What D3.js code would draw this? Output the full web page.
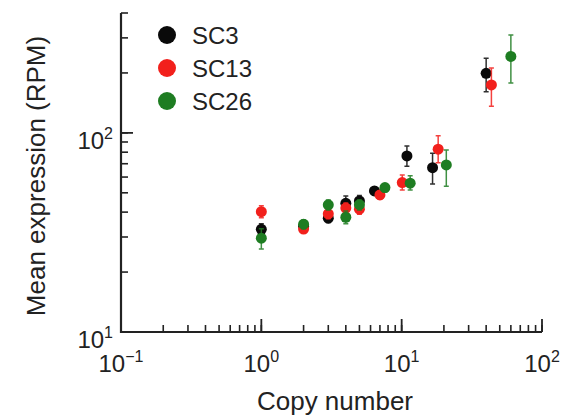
<!DOCTYPE html>
<meta charset="utf-8">
<style>
  body { margin: 0; background: #fff; }
  svg text { font-family: "Liberation Sans", Arial, sans-serif; fill: #222; }
</style>
<svg width="582" height="418"></svg>
<script src="https://d3js.org/d3.v7.min.js"></script>
<script>
// series: copy number, mean expression, error low / high (RPM)
var seriesNames = ["SC3", "SC13", "SC26"];
var seriesColors = ["#0a0a0a", "#f2201c", "#1e7d22"];

var sc3Copy = [1.0, 2.0, 3.0, 4.0, 5.0, 6.4, 10.9, 16.6, 40.0];
var sc3Mean = [32.8, 34.0, 37.3, 44.3, 45.5, 51.1, 76.6, 66.9, 199];
var sc3Lo   = [30.8, 32.5, 35.5, 40.5, 43.0, 49.0, 68.0, 55.4, 161];
var sc3Hi   = [35.0, 35.5, 39.5, 48.2, 48.5, 53.5, 86.0, 79.0, 237];

var sc13Copy = [1.0, 2.0, 3.0, 4.0, 5.0, 7.0, 10.1, 18.2, 43.6];
var sc13Mean = [40.2, 32.9, 39.2, 41.9, 41.4, 48.8, 56.3, 82.8, 174];
var sc13Lo   = [37.5, 31.5, 37.0, 39.5, 39.0, 46.5, 51.7, 70.7, 136];
var sc13Hi   = [43.0, 34.5, 41.5, 44.5, 44.0, 51.0, 61.5, 96.6, 212];

var sc26Copy = [1.0, 2.0, 3.0, 4.0, 5.0, 7.6, 11.5, 20.8, 60.0];
var sc26Mean = [29.6, 34.8, 43.5, 37.7, 43.6, 53.1, 55.9, 69.0, 242];
var sc26Lo   = [26.1, 33.0, 41.0, 35.0, 41.0, 50.5, 51.7, 54.0, 178];
var sc26Hi   = [33.0, 36.5, 46.0, 40.5, 46.0, 55.5, 61.0, 82.0, 310];

var xMajor = [0.1, 1, 10, 100];
var xMajorExp = ["\u22121", "0", "1", "2"];
var yMajor = [10, 100];
var yMajorExp = ["1", "2"];

var svg = d3.select("svg");

var x = d3.scaleLog().domain([0.1, 100]).range([121, 542]);
var y = d3.scaleLog().domain([10, 400]).range([332, 13]);

var axisColor = "#222";

// minor ticks
svg.append("g").selectAll("line").data(x.ticks())
  .enter().append("line")
  .attr("x1", function(d) { return x(d); }).attr("x2", function(d) { return x(d); })
  .attr("y1", 332).attr("y2", 325)
  .attr("stroke", axisColor).attr("stroke-width", 1.6);

svg.append("g").selectAll("line").data(y.ticks())
  .enter().append("line")
  .attr("y1", function(d) { return y(d); }).attr("y2", function(d) { return y(d); })
  .attr("x1", 121).attr("x2", 128)
  .attr("stroke", axisColor).attr("stroke-width", 1.6);

// major ticks
svg.append("g").selectAll("line").data(xMajor)
  .enter().append("line")
  .attr("x1", function(d) { return x(d); }).attr("x2", function(d) { return x(d); })
  .attr("y1", 332).attr("y2", 319)
  .attr("stroke", axisColor).attr("stroke-width", 1.8);

svg.append("g").selectAll("line").data(yMajor)
  .enter().append("line")
  .attr("y1", function(d) { return y(d); }).attr("y2", function(d) { return y(d); })
  .attr("x1", 121).attr("x2", 133)
  .attr("stroke", axisColor).attr("stroke-width", 1.8);

// axis lines
svg.append("path")
  .attr("d", "M" + x(0.1) + "," + y(400) + "V" + y(10) + "H" + x(100))
  .attr("fill", "none").attr("stroke", axisColor).attr("stroke-width", 2.2);

// tick labels
var xl = svg.append("g").selectAll("text").data(xMajor)
  .enter().append("text")
  .attr("x", function(d) { return x(d); })
  .attr("y", 372)
  .attr("text-anchor", "middle")
  .style("font-size", "24px");
xl.append("tspan").text("10");
xl.append("tspan").attr("dy", -10).style("font-size", "16px")
  .text(function(d, i) { return xMajorExp[i]; });

var yl = svg.append("g").selectAll("text").data(yMajor)
  .enter().append("text")
  .attr("x", 113)
  .attr("y", function(d) { return y(d) + 16; })
  .attr("text-anchor", "end")
  .style("font-size", "24px");
yl.append("tspan").text("10");
yl.append("tspan").attr("dy", -10).style("font-size", "16px")
  .text(function(d, i) { return yMajorExp[i]; });

// axis titles
svg.append("text")
  .attr("x", 335).attr("y", 410)
  .attr("text-anchor", "middle")
  .style("font-size", "26px")
  .text("Copy number");

svg.append("text")
  .attr("transform", "translate(45,176) rotate(-90)")
  .attr("text-anchor", "middle")
  .style("font-size", "26px")
  .text("Mean expression (RPM)");

// data
var series = [
  {copy: sc3Copy, mean: sc3Mean, lo: sc3Lo, hi: sc3Hi},
  {copy: sc13Copy, mean: sc13Mean, lo: sc13Lo, hi: sc13Hi},
  {copy: sc26Copy, mean: sc26Mean, lo: sc26Lo, hi: sc26Hi}
];

series.forEach(function(s, si) {
  var rows = s.copy.map(function(c, i) {
    return {c: c, m: s.mean[i], lo: s.lo[i], hi: s.hi[i]};
  });
  var g = svg.append("g");
  var col = seriesColors[si];
  g.selectAll("path.err").data(rows).enter().append("path")
    .attr("class", "err")
    .attr("d", function(d) {
      var cx = x(d.c);
      return "M" + cx + "," + y(d.lo) + "V" + y(d.hi) +
        "M" + (cx - 2.5) + "," + y(d.lo) + "H" + (cx + 2.5) +
        "M" + (cx - 2.5) + "," + y(d.hi) + "H" + (cx + 2.5);
    })
    .attr("fill", "none").attr("stroke", col).attr("stroke-width", 1.5)
    .attr("stroke-opacity", 0.85);
  g.selectAll("circle").data(rows).enter().append("circle")
    .attr("cx", function(d) { return x(d.c); })
    .attr("cy", function(d) { return y(d.m); })
    .attr("r", 5.5)
    .attr("fill", col);
});

// legend
var leg = svg.append("g").selectAll("g").data(seriesNames)
  .enter().append("g")
  .attr("transform", function(d, i) { return "translate(167," + (35 + i * 33) + ")"; });
leg.append("circle").attr("r", 9).attr("fill", function(d, i) { return seriesColors[i]; });
leg.append("text").attr("x", 25).attr("y", 9)
  .style("font-size", "24px")
  .text(function(d) { return d; });
</script>
